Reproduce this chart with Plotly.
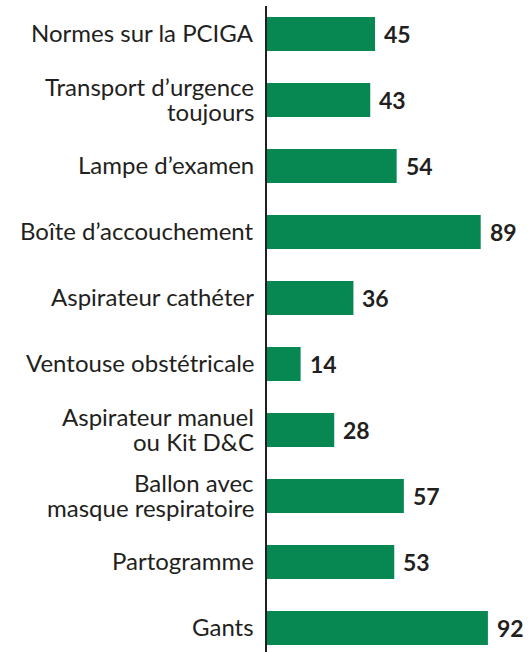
import plotly.graph_objects as go

categories = [
    ["Normes sur la PCIGA"],
    ["Transport d\u2019urgence", "toujours"],
    ["Lampe d\u2019examen"],
    ["Bo\u00eete d\u2019accouchement"],
    ["Aspirateur cath\u00e9ter"],
    ["Ventouse obst\u00e9tricale"],
    ["Aspirateur manuel", "ou Kit D&C"],
    ["Ballon avec", "masque respiratoire"],
    ["Partogramme"],
    ["Gants"],
]
values = [45, 43, 54, 89, 36, 14, 28, 57, 53, 92]

GREEN = "#078752"
TEXT = "#231f20"
FONT = "Lato"

ypos = list(range(len(values)))

fig = go.Figure()
fig.add_trace(go.Bar(
    x=values, y=ypos, orientation="h",
    marker=dict(color=GREEN, line=dict(width=0)),
    width=0.515, hoverinfo="skip",
))

annotations = []
for i, (lines, v) in enumerate(zip(categories, values)):
    n = len(lines)
    for j, line in enumerate(lines):
        shift = (n - 1) / 2 * 24.5 - j * 24.5
        annotations.append(dict(
            x=0, y=i, xref="x", yref="y", text=line, showarrow=False,
            xanchor="right", yanchor="middle", xshift=-11, yshift=shift + 1,
            font=dict(family=FONT, size=24, color=TEXT),
        ))
    annotations.append(dict(
        x=v, y=i, xref="x", yref="y", text="<b>%d</b>" % v, showarrow=False,
        xanchor="left", yanchor="middle", xshift=7, yshift=0,
        font=dict(family=FONT, size=23, color=TEXT),
    ))

fig.update_layout(
    width=528, height=652,
    margin=dict(l=267, r=0, t=6, b=0),
    paper_bgcolor="white", plot_bgcolor="white",
    showlegend=False,
    annotations=annotations,
    xaxis=dict(range=[0, 108.7], visible=False, fixedrange=True),
    yaxis=dict(range=[9.364, -0.424], showticklabels=False, showgrid=False,
               zeroline=False, showline=True, linecolor=TEXT, linewidth=2,
               ticks="", fixedrange=True),
)

fig.write_html("out.html", config={"displayModeBar": False},
               post_script="document.body.style.margin='0';document.body.style.padding='0';")
